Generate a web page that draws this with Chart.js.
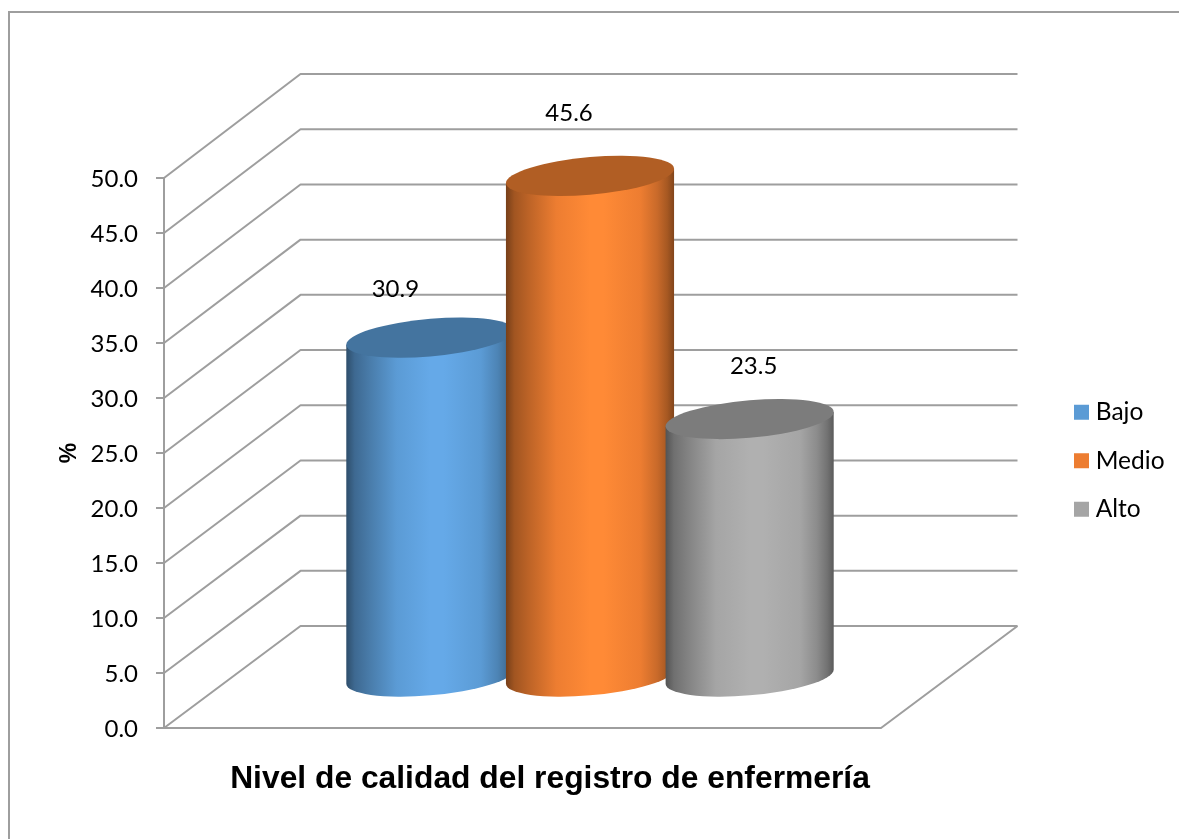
<!DOCTYPE html>
<html>
<head>
<meta charset="utf-8">
<style>
    html, body { margin: 0; padding: 0; background: #fff; }
    canvas { display: block; }
</style>
<script src="https://cdn.jsdelivr.net/npm/chart.js@4"></script>
</head>
<body>
<canvas id="calidadChart" width="1179" height="839"></canvas>
<script>
const category = ['Nivel de calidad del registro de enfermería'];
const seriesNames = ['Bajo', 'Medio', 'Alto'];
const seriesValues = [30.9, 45.6, 23.5];
const seriesColors = ['#5b9bd5', '#ed7d31', '#a5a5a5'];
const lightColors = ['#65a9e8', '#ff8a36', '#b0b0b0'];
const topColors = ['#44749f', '#b15e24', '#7c7c7c'];
const labelOffsets = [[-35, -48], [-21, -63], [4, -53]]; // labels were moved by hand in the original

const GRID = '#9e9e9e';
const depthX = 136.5, depthY = 102;
const backStretch = 1.0036; // back wall is a touch taller than the front axis
const barDx = 67.5, barDy = -50.5;
const tilt = 0.085, ellipseH = 18.8;
const FONT = 'Lato';

function shade(hex, f) {
    const n = parseInt(hex.slice(1), 16);
    const c = [n >> 16, (n >> 8) & 255, n & 255].map(v => Math.round(v * f));
    return `rgb(${c[0]}, ${c[1]}, ${c[2]})`;
}

function drawWalls(chart) {
    const { ctx, scales: { x, y } } = chart;
    const base = y.getPixelForValue(0);
    ctx.save();
    ctx.strokeStyle = GRID;
    ctx.lineWidth = 2;
    ctx.lineJoin = 'round';
    y.ticks.forEach(t => {
        const py = y.getPixelForValue(t.value);
        const backY = base - depthY - (base - py) * backStretch;
        ctx.beginPath();
        ctx.moveTo(x.left, py);
        ctx.lineTo(x.left + depthX, backY);
        ctx.lineTo(x.right + depthX, backY);
        ctx.stroke();
    });
    ctx.beginPath();
    ctx.moveTo(x.left, base);
    ctx.lineTo(x.right, base);
    ctx.lineTo(x.right + depthX, base - depthY);
    ctx.stroke();
    ctx.restore();
}

function drawCylinder(ctx, bar, i) {
    const rx = bar.width / 2;
    const top = bar.y + barDy;
    const bottom = bar.base + barDy;
    const c = seriesColors[i];

    ctx.save();
    ctx.translate(bar.x + barDx, 0);
    ctx.transform(1, -tilt, 0, 1, 0, 0);

    const g = ctx.createLinearGradient(-rx, 0, rx, 0);
    g.addColorStop(0, shade(c, 0.5));
    g.addColorStop(0.05, shade(c, 0.68));
    g.addColorStop(0.14, shade(c, 0.8));
    g.addColorStop(0.3, c);
    g.addColorStop(0.5, lightColors[i]);
    g.addColorStop(0.58, lightColors[i]);
    g.addColorStop(0.8, c);
    g.addColorStop(0.9, shade(c, 0.85));
    g.addColorStop(0.96, shade(c, 0.7));
    g.addColorStop(1, shade(c, 0.55));

    ctx.beginPath();
    ctx.moveTo(-rx, top);
    ctx.lineTo(-rx, bottom);
    ctx.ellipse(0, bottom, rx, ellipseH, 0, Math.PI, 0, true);
    ctx.lineTo(rx, top);
    ctx.closePath();
    ctx.fillStyle = g;
    ctx.fill();

    ctx.beginPath();
    ctx.ellipse(0, top, rx, ellipseH, 0, 0, Math.PI * 2);
    ctx.fillStyle = topColors[i];
    ctx.fill();
    ctx.restore();
}

const cylinders = {
    id: 'cylinders',
    beforeDraw(chart) {
        const { ctx } = chart;
        ctx.save();
        ctx.fillStyle = '#fff';
        ctx.fillRect(0, 0, chart.width, chart.height);
        ctx.strokeStyle = GRID;
        ctx.lineWidth = 2;
        ctx.beginPath();
        ctx.moveTo(9, chart.height);
        ctx.lineTo(9, 12);
        ctx.lineTo(chart.width, 12);
        ctx.stroke();
        ctx.restore();

        // legend and title sit off-centre in the original
        const legend = chart.legend;
        legend.left = 1055.5;
        legend.right = chart.width;
        legend.top = 376;
        legend.bottom = chart.height;
        chart.titleBlock.right = 1100;
    },
    beforeDatasetsDraw(chart) {
        const { ctx } = chart;
        drawWalls(chart);
        seriesValues.forEach((v, i) => {
            drawCylinder(ctx, chart.getDatasetMeta(i).data[0], i);
        });
        ctx.save();
        ctx.fillStyle = '#000';
        ctx.font = `24px ${FONT}`;
        ctx.textAlign = 'center';
        ctx.textBaseline = 'middle';
        seriesValues.forEach((v, i) => {
            const bar = chart.getDatasetMeta(i).data[0];
            ctx.fillText(v.toFixed(1), bar.x + barDx + labelOffsets[i][0], bar.y + barDy + labelOffsets[i][1]);
        });
        ctx.restore();
        return false;
    }
};

new Chart(document.getElementById('calidadChart'), {
    type: 'bar',
    data: {
        labels: category,
        datasets: seriesNames.map((name, i) => ({
            label: name,
            data: [seriesValues[i]],
            backgroundColor: seriesColors[i],
            borderWidth: 0,
            categoryPercentage: 0.668,
            barPercentage: 1.053
        }))
    },
    plugins: [cylinders],
    options: {
        responsive: false,
        animation: false,
        layout: { padding: { top: 178, left: 0, right: 298, bottom: 0 } },
        scales: {
            x: { display: false },
            y: {
                min: 0,
                max: 50,
                afterFit(scale) { scale.width = 164; },
                border: { display: true, color: GRID, width: 2 },
                grid: { drawOnChartArea: false, drawTicks: true, tickLength: 8, color: GRID, lineWidth: 2 },
                ticks: {
                    stepSize: 5,
                    padding: 18,
                    labelOffset: 1,
                    color: '#000',
                    font: { family: FONT, size: 24 },
                    callback: v => v.toFixed(1)
                },
                title: {
                    display: true,
                    text: '%',
                    color: '#000',
                    font: { family: 'Liberation Sans', size: 23, weight: 'bold' },
                    padding: { top: 56, bottom: 0 }
                }
            }
        },
        plugins: {
            tooltip: { enabled: false },
            title: {
                display: true,
                position: 'bottom',
                text: category[0],
                color: '#000',
                font: { family: 'Liberation Sans', size: 31.8, weight: 'bold' },
                padding: { top: 32, bottom: 40.8 }
            },
            legend: {
                position: 'chartArea',
                align: 'start',
                labels: {
                    usePointStyle: true,
                    pointStyle: 'rect',
                    boxWidth: 4,
                    boxHeight: 15,
                    padding: 24,
                    color: '#000',
                    font: { family: FONT, size: 24.5 }
                }
            }
        }
    }
});
</script>
</body>
</html>
